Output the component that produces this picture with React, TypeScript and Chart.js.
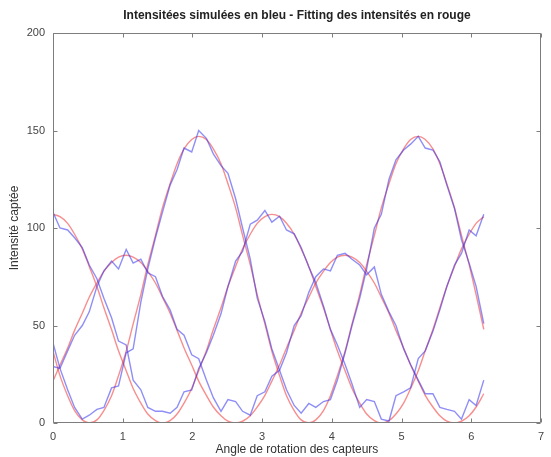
import { useEffect, useRef } from "react";
import { Chart, registerables } from "chart.js";

Chart.register(...registerables);

const chartTitle = "Intensitées simulées en bleu - Fitting des intensités en rouge";
const xTitle = "Angle de rotation des capteurs";
const yTitle = "Intensité captée";

const angles = [
  0, 0.1, 0.21, 0.31, 0.42, 0.52, 0.63, 0.73, 0.84, 0.94, 1.05, 1.15, 1.26, 1.36, 1.47, 1.57, 1.68, 1.78, 1.88, 1.99,
  2.09, 2.2, 2.3, 2.41, 2.51, 2.62, 2.72, 2.83, 2.93, 3.04, 3.14, 3.25, 3.35, 3.46, 3.56, 3.67, 3.77, 3.88, 3.98, 4.08,
  4.19, 4.29, 4.4, 4.5, 4.61, 4.71, 4.82, 4.92, 5.03, 5.13, 5.24, 5.34, 5.45, 5.55, 5.65, 5.76, 5.86, 5.97, 6.07, 6.18,
];

const simA = [
  108, 100, 99, 95, 90, 81, 74, 64, 54, 42, 40, 22, 17, 8, 6, 6, 5, 8, 16, 17,
  28, 36, 45, 56, 70, 83, 88, 102, 104, 109, 103, 106, 99, 97, 90, 80, 72, 60, 48, 40,
  30, 20, 8, 12, 11, 2, 1, 14, 16, 18, 33, 37, 47, 58, 70, 81, 87, 99, 96, 107,
];
const simB = [
  41, 28, 17, 8, 2, 4, 7, 8, 18, 19, 36, 38, 62, 79, 95, 108, 122, 130, 141, 139,
  150, 146, 138, 132, 128, 115, 100, 84, 64, 52, 38, 27, 17, 9, 5, 10, 8, 11, 12, 22,
  36, 50, 64, 79, 100, 107, 125, 135, 140, 143, 147, 141, 140, 134, 122, 110, 94, 82, 70, 51,
];
const simC = [
  29, 28, 37, 45, 50, 57, 70, 78, 83, 79, 89, 82, 84, 77, 75, 65, 58, 48, 45, 35,
  33, 22, 13, 6, 12, 11, 6, 4, 14, 16, 24, 27, 36, 50, 55, 67, 75, 79, 78, 86,
  87, 84, 81, 76, 80, 66, 57, 50, 38, 30, 22, 15, 15, 8, 7, 6, 2, 12, 9, 22,
];

const fitA = [
  107, 105.8, 102.4, 96.8, 89.3, 80.3, 70, 59.1, 47.9, 37, 26.8, 17.7, 10.2, 4.6, 1.2, 0, 1.2, 4.6, 10.2, 17.7,
  26.8, 37, 47.9, 59.1, 70, 80.3, 89.3, 96.8, 102.4, 105.8, 107, 105.8, 102.4, 96.8, 89.3, 80.3, 70, 59.1, 47.9, 37,
  26.8, 17.7, 10.2, 4.6, 1.2, 0, 1.2, 4.6, 10.2, 17.7, 26.8, 37, 47.9, 59.1, 70, 80.3, 89.3, 96.8, 102.4, 105.8,
];
const fitB = [
  36.8, 24.3, 14, 6.4, 1.6, 0, 1.6, 6.4, 14, 24.3, 36.8, 50.8, 65.8, 81.2, 96.2, 110.3, 122.7, 133, 140.6, 145.4,
  147, 145.4, 140.6, 133, 122.7, 110.3, 96.2, 81.2, 65.8, 50.8, 36.8, 24.3, 14, 6.4, 1.6, 0, 1.6, 6.4, 14, 24.3,
  36.8, 50.8, 65.8, 81.2, 96.2, 110.3, 122.7, 133, 140.6, 145.4, 147, 145.4, 140.6, 133, 122.7, 110.3, 96.2, 81.2, 65.8, 48,
];
const fitC = [
  21.5, 29.7, 38.5, 47.5, 56.3, 64.5, 71.8, 77.8, 82.3, 85.1, 86, 85.1, 82.3, 77.8, 71.8, 64.5, 56.3, 47.5, 38.5, 29.7,
  21.5, 14.2, 8.2, 3.7, 0.9, 0, 0.9, 3.7, 8.2, 14.2, 21.5, 29.7, 38.5, 47.5, 56.3, 64.5, 71.8, 77.8, 82.3, 85.1,
  86, 85.1, 82.3, 77.8, 71.8, 64.5, 56.3, 47.5, 38.5, 29.7, 21.5, 14.2, 8.2, 3.7, 0.9, 0, 0.9, 3.7, 8.2, 15,
];

const simSeries = [simA, simB, simC];
const fitSeries = [fitA, fitB, fitC];

const BLUE = "rgba(50,50,240,0.55)";
const RED = "rgba(240,50,50,0.55)";
const AXIS = "#7d7d7d";
const FONT = "'Liberation Sans', Arial, sans-serif";

const framePlugin = {
  id: "frameTicks",
  afterDraw(chart: any) {
    const { ctx, chartArea: a, scales } = chart;
    const L = Math.round(a.left) + 0.5;
    const R = Math.round(a.right) - 0.5;
    const T = Math.round(a.top) + 0.5;
    const B = Math.round(a.bottom) - 0.5;
    ctx.save();
    ctx.strokeStyle = AXIS;
    ctx.lineWidth = 1;
    ctx.beginPath();
    ctx.rect(L, T, R - L, B - T);
    const len = 4;
    scales.x.ticks.forEach((t: any) => {
      const px = Math.round(scales.x.getPixelForValue(t.value)) + 0.5;
      ctx.moveTo(px, B);
      ctx.lineTo(px, B - len);
      ctx.moveTo(px, T);
      ctx.lineTo(px, T + len);
    });
    scales.y.ticks.forEach((t: any) => {
      const py = Math.round(scales.y.getPixelForValue(t.value)) + 0.5;
      ctx.moveTo(L, py);
      ctx.lineTo(L + len, py);
      ctx.moveTo(R, py);
      ctx.lineTo(R - len, py);
    });
    ctx.stroke();
    ctx.restore();
  },
};

export default function App() {
  const ref = useRef<HTMLCanvasElement | null>(null);

  useEffect(() => {
    if (!ref.current) return;
    const datasets: any[] = [];
    simSeries.forEach((s, k) => {
      datasets.push({
        label: "sim" + k,
        data: angles.map((x, i) => ({ x, y: s[i] })),
        borderColor: BLUE,
        borderWidth: 1.4,
        pointRadius: 0,
        tension: 0,
        fill: false,
      });
    });
    fitSeries.forEach((s, k) => {
      datasets.push({
        label: "fit" + k,
        data: angles.map((x, i) => ({ x, y: s[i] })),
        borderColor: RED,
        borderWidth: 1.4,
        pointRadius: 0,
        cubicInterpolationMode: "monotone",
        fill: false,
      });
    });

    const chart = new Chart(ref.current, {
      type: "line",
      data: { datasets },
      options: {
        animation: false,
        responsive: false,
        layout: { padding: { left: 0, right: 1, top: 0, bottom: 0 } },
        plugins: {
          legend: { display: false },
          tooltip: { enabled: false },
          title: {
            display: true,
            text: chartTitle,
            fullSize: false,
            color: "#222",
            font: { family: FONT, size: 12, weight: "bold" },
            padding: { top: 8, bottom: 10.6 },
          },
        },
        scales: {
          x: {
            type: "linear",
            min: 0,
            max: 7,
            grid: { display: false, drawTicks: false },
            border: { display: false },
            ticks: { stepSize: 1, color: "#444", font: { family: FONT, size: 11 }, padding: 7, maxRotation: 0 },
            title: {
              display: true,
              text: xTitle,
              color: "#333",
              font: { family: FONT, size: 12 },
              padding: { top: 0, bottom: 0 },
            },
            afterFit: (s: any) => {
              s.height = 34;
            },
          },
          y: {
            type: "linear",
            min: 0,
            max: 200,
            grid: { display: false, drawTicks: false },
            border: { display: false },
            ticks: { stepSize: 50, color: "#444", font: { family: FONT, size: 11 }, padding: 8 },
            title: {
              display: true,
              text: yTitle,
              color: "#333",
              font: { family: FONT, size: 12 },
              padding: { top: 7, bottom: 0 },
            },
            afterFit: (s: any) => {
              s.width = 53;
            },
          },
        },
      },
      plugins: [framePlugin],
    });
    return () => chart.destroy();
  }, []);

  return (
    <div style={{ position: "fixed", left: 0, top: 0, width: 551, height: 457, background: "#fff" }}>
      <canvas ref={ref} width={551} height={457} />
    </div>
  );
}
